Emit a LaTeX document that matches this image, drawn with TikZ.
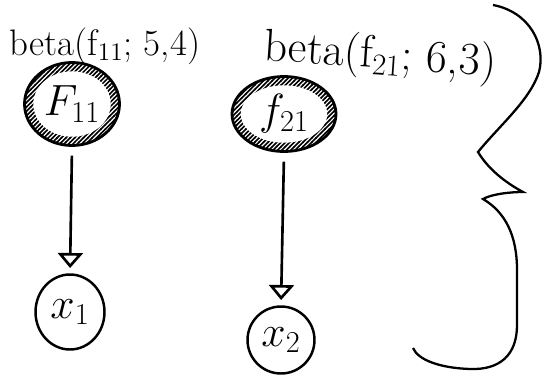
\documentclass[tikz,border=0pt]{standalone}
\usepackage{amsmath,amssymb}
\usetikzlibrary{arrows.meta,calc,shapes.geometric,patterns}
\pgfdeclarepatternformonly{densehatch}{\pgfqpoint{-1pt}{-1pt}}{\pgfqpoint{3.5pt}{3.5pt}}{\pgfqpoint{2.5pt}{2.5pt}}{%
  \pgfsetlinewidth{0.9pt}
  \pgfpathmoveto{\pgfqpoint{-0.2pt}{-0.2pt}}
  \pgfpathlineto{\pgfqpoint{2.7pt}{2.7pt}}
  \pgfusepath{stroke}}
\tikzset{
  latent/.style={ellipse,draw,line width=1.6pt,inner sep=0pt,pattern=densehatch,
    font=\fontsize{24}{26}\selectfont,
    path picture={\path let \p1=(path picture bounding box.north east),
      \p2=(path picture bounding box.center) in
      [fill=white] (\p2) ellipse [x radius=\x1-\x2-5pt,y radius=\y1-\y2-5pt];}},
  obs/.style={ellipse,draw,line width=1.4pt,inner sep=0pt,font=\fontsize{26}{28}\selectfont},
  prior/.style={inner sep=0pt,font=\fontsize{21}{23}\selectfont},
  edge/.style={line width=1.5pt,-{Triangle[open,width=5mm,length=3mm]},shorten <=5pt,shorten >=3pt}
}

\begin{document}
\begin{tikzpicture}[x=0.02cm,y=-0.02cm]
  \useasboundingbox (0,0) rectangle (546,375);
  \node[prior] (b11) at (105,46) {beta(f$_{11}$; 5,4)};
  \node[prior,rotate=-4,font=\fontsize{26}{28}\selectfont] (b21) at (380,57) {beta(f$_{21}$; 6,3)};
  \node[latent,minimum width=1.9cm,minimum height=1.66cm] (f11) at (72,104) {$F_{11}$};
  \node[latent,minimum width=2.08cm,minimum height=1.5cm] (f21) at (284,114) {$f_{21}$};
  \node[obs,minimum width=1.38cm,minimum height=1.5cm] (x1) at (70,312) {$x_1$};
  \node[obs,minimum width=1.34cm,minimum height=1.34cm] (x2) at (281,340) {$x_2$};
  \draw[edge] (f11.south) -- (x1.north);
  \draw[edge] (f21.south) -- (x2.north);
  \draw[line width=1.3pt] (493,5) .. controls (530,12) and (546,45) .. (539,72)
    .. controls (530,100) and (500,125) .. (478,152)
    .. controls (490,172) and (510,185) .. (523,192)
    .. controls (510,192) and (492,194) .. (483,199)
    .. controls (505,212) and (517,235) .. (517,270) -- (517,325)
    .. controls (517,355) and (500,370) .. (470,369)
    .. controls (440,368) and (418,360) .. (413,348);
\end{tikzpicture}
\end{document}
